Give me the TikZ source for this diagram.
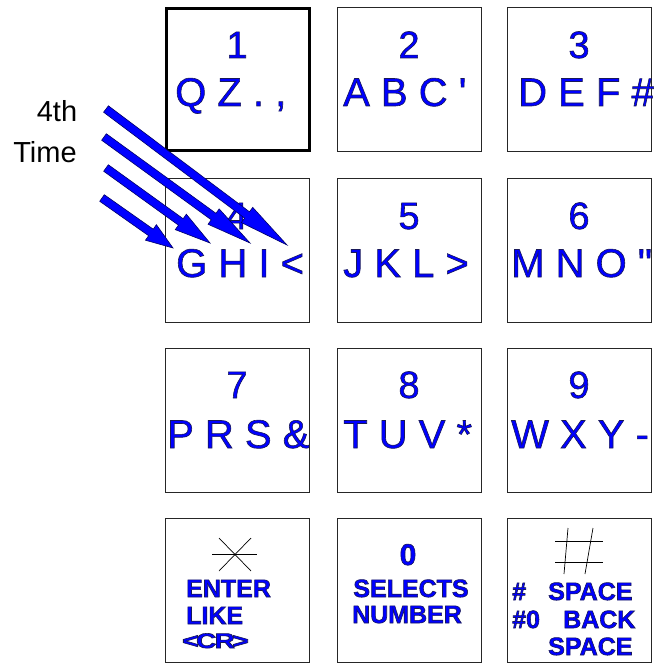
\documentclass[tikz,border=0pt]{standalone}
\usepackage{fontspec}
\usepackage{graphicx}
\setmainfont{Liberation Sans}
\usetikzlibrary{calc}
\definecolor{keyblue}{RGB}{0,0,255}
\newcommand\olt[1]{\special{pdf:literal direct 2 Tr 0.6 w 0.1 0.1 0.35 RG}#1\special{pdf:literal direct 0 Tr}}
\newcommand\sq{\XeTeXglyph\XeTeXcharglyph"27\relax}
\newcommand\dq{\XeTeXglyph\XeTeXcharglyph"22\relax}
\tikzset{
  keybox/.style={draw=black!85, line width=0.9bp, minimum width=144bp, minimum height=144bp, inner sep=0pt, anchor=north west},
  boldkey/.style={keybox, draw=black, line width=3bp, minimum width=143bp, minimum height=142bp},
  digit/.style={inner sep=0pt, anchor=base, text=keyblue, font=\fontsize{38bp}{40bp}\selectfont},
  letters/.style={inner sep=0pt, anchor=base west, text=keyblue, font=\fontsize{40bp}{42bp}\selectfont},
  bottomtxt/.style={inner sep=0pt, anchor=base west, text=keyblue, font=\bfseries\fontsize{25bp}{27bp}\selectfont},
  sidetext/.style={inner sep=0pt, anchor=base, text=black, font=\fontsize{29bp}{31bp}\selectfont},
  symline/.style={draw=black, line width=0.7bp},
  fatarrow/.style={fill=keyblue, draw=black!60!blue, line width=0.6bp, line join=miter},
}
% #1 start, #2 tip, #3 head length
\newcommand\fatarr[3]{%
  \draw[fatarrow] ($(#1)!4bp!90:(#2)$) -- ($(#2)!#3!(#1)!4bp!-90:(#1)$) -- ($(#2)!#3!(#1)!9.5bp!-90:(#1)$) -- (#2) -- ($(#2)!#3!(#1)!9.5bp!90:(#1)$) -- ($(#2)!#3!(#1)!4bp!90:(#1)$) -- ($(#1)!4bp!-90:(#2)$) -- cycle;}
\begin{document}
\begin{tikzpicture}[x=1bp,y=-1bp]
\useasboundingbox (0,0) rectangle (657,664);
% keys
\node[boldkey] (k1) at (165,7) {};
\node[keybox] (k2) at (337,7) {};
\node[keybox] (k3) at (507,7) {};
\node[keybox] (k4) at (165,178) {};
\node[keybox] (k5) at (337,178) {};
\node[keybox] (k6) at (507,178) {};
\node[keybox] (k7) at (165,348) {};
\node[keybox] (k8) at (337,348) {};
\node[keybox] (k9) at (507,348) {};
\node[keybox] (kstar) at (165,518) {};
\node[keybox] (k0) at (337,518) {};
\node[keybox] (khash) at (507,518) {};
% digits
\node[digit] (d1) at (237,58) {\olt{1}};
\node[digit] (d2) at (409,58) {\olt{2}};
\node[digit] (d3) at (579,58) {\olt{3}};
\node[digit] (d4) at (237,229) {\olt{4}};
\node[digit] (d5) at (409,229) {\olt{5}};
\node[digit] (d6) at (579,229) {\olt{6}};
\node[digit] (d7) at (237,398) {\olt{7}};
\node[digit] (d8) at (409,398) {\olt{8}};
\node[digit] (d9) at (579,398) {\olt{9}};
% letters
\node[letters] (l1) at (175,106) {\olt{Q Z . ,}};
\node[letters] (l2) at (343,106) {\olt{A B C \sq}};
\node[letters] (l3) at (518,106) {\olt{D E F \#}};
\node[letters] (l4) at (176,277) {\olt{G H I <}};
\node[letters] (l5) at (343,277) {\olt{J K L >}};
\node[letters] (l6) at (511,277) {\olt{M N O \dq}};
\node[letters] (l7) at (167,448) {\olt{P R S \&}};
\node[letters] (l8) at (343,448) {\olt{T U V *}};
\node[letters] (l9) at (511,448) {\olt{W X Y -}};
% bottom row
\draw[symline] (212,554) -- (257,554);
\draw[symline] (219,538) -- (251,571);
\draw[symline] (251,538) -- (219,571);
\node[bottomtxt] (enter) at (186,597) {\olt{ENTER}};
\node[bottomtxt] (like) at (186,624) {\olt{LIKE}};
\node[bottomtxt, font=\bfseries\fontsize{21bp}{23bp}\selectfont] (cr) at (182,648) {\olt{\scalebox{1.35}[1]{<\kern-2bp C\kern-1.5bp R\kern-2bp >}}};
\node[bottomtxt, font=\bfseries\fontsize{30bp}{32bp}\selectfont, anchor=base] (zero) at (408,565) {\olt{0}};
\node[bottomtxt, anchor=base] (sel) at (411,597) {\olt{SELECTS}};
\node[bottomtxt, anchor=base] (num) at (407,623) {\olt{NUMBER}};
\draw[symline] (555,541) -- (603,541);
\draw[symline] (555,562) -- (603,562);
\draw[symline] (568,528) -- (564,574);
\draw[symline] (593,528) -- (585,574);
\node[bottomtxt] (h1) at (512,600) {\olt{\#}};
\node[bottomtxt] (sp1) at (548,600) {\olt{SPACE}};
\node[bottomtxt] (h0) at (512,628) {\olt{\#0}};
\node[bottomtxt] (back) at (563,628) {\olt{BACK}};
\node[bottomtxt] (sp2) at (548,655) {\olt{SPACE}};
% side label
\node[sidetext] (fourth) at (57,122) {4th};
\node[sidetext] (time) at (45,162) {Time};
% arrows
\coordinate (a1) at (106,109); \coordinate (t1) at (287,245);
\coordinate (a2) at (104,137); \coordinate (t2) at (250,243);
\coordinate (a3) at (106,168); \coordinate (t3) at (210,243);
\coordinate (a4) at (102,198); \coordinate (t4) at (173,248);
\fatarr{a1}{t1}{50bp}
\fatarr{a2}{t2}{45bp}
\fatarr{a3}{t3}{36bp}
\fatarr{a4}{t4}{27bp}
\end{tikzpicture}
\end{document}
